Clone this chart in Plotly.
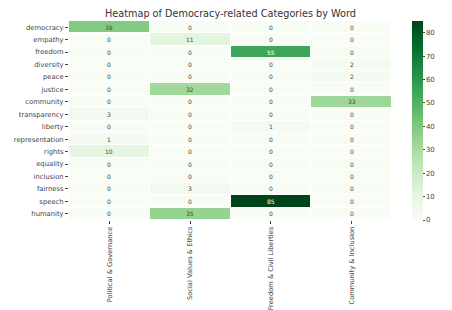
import plotly.graph_objects as go

words = ["democracy", "empathy", "freedom", "diversity", "peace", "justice", "community",
         "transparency", "liberty", "representation", "rights", "equality", "inclusion",
         "fairness", "speech", "humanity"]
categories = ["Political & Governance", "Social Values & Ethics",
              "Freedom & Civil Liberties", "Community & Inclusion"]
political = [39, 0, 0, 0, 0, 0, 0, 3, 0, 1, 10, 0, 0, 0, 0, 0]
social = [0, 11, 0, 0, 0, 32, 0, 0, 0, 0, 0, 0, 0, 3, 0, 35]
freedom = [0, 0, 55, 0, 0, 0, 0, 0, 1, 0, 0, 0, 0, 0, 85, 0]
community = [0, 0, 0, 2, 2, 0, 33, 0, 0, 0, 0, 0, 0, 0, 0, 0]

columns = [political, social, freedom, community]
z = [[col[i] for col in columns] for i in range(len(words))]

greens = ["#f7fcf5", "#e5f5e0", "#c7e9c0", "#a1d99b", "#74c476",
          "#41ab5d", "#238b45", "#006d2c", "#00441b"]
colorscale = [[i / 8, c] for i, c in enumerate(greens)]

fig = go.Figure(go.Heatmap(
    z=z, x=categories, y=words,
    colorscale=colorscale, zmin=0, zmax=85,
    xgap=1, ygap=1, hoverinfo="skip",
    colorbar=dict(
        x=1.062, xanchor="left", xpad=0, y=0.5, yanchor="middle", ypad=0,
        len=1, lenmode="fraction",
        thickness=11, outlinewidth=0, ticks="outside", ticklen=2, tickcolor="#444",
        tickvals=[0, 10, 20, 30, 40, 50, 60, 70, 80],
        tickfont=dict(size=7, color="#444"),
    ),
))

for i, w in enumerate(words):
    for j, c in enumerate(categories):
        v = columns[j][i]
        fig.add_annotation(x=c, y=w, text=str(v), showarrow=False,
                           font=dict(size=6, color="white" if v > 45 else "#444"))

# page body has an 8px margin, so the figure is sized to the visible area
fig.update_layout(
    width=444, height=302,
    margin=dict(l=61, r=60, t=13, b=90, autoexpand=False),
    paper_bgcolor="white", plot_bgcolor="white",
    font=dict(family="DejaVu Sans", color="#444"),
    title=dict(text="Heatmap of Democracy-related Categories by Word",
               x=0.5, xref="paper", xanchor="center", y=0.98, yanchor="middle",
               font=dict(size=9.7, color="#333")),
)
fig.update_xaxes(tickangle=-90, tickfont=dict(size=6.7, color="#444"), ticks="outside",
                 ticklen=3, tickcolor="#444", showgrid=False, zeroline=False)
fig.update_yaxes(autorange="reversed", tickfont=dict(size=6.8, color="#444"), ticks="outside",
                 ticklen=3, tickcolor="#444", showgrid=False, zeroline=False)

fig.write_html("out.html")
